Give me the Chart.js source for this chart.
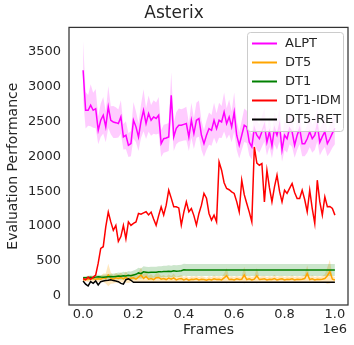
<!DOCTYPE html>
<html><head><meta charset="utf-8">
<script src="https://cdn.jsdelivr.net/npm/chart.js@4.4.0/dist/chart.umd.min.js"></script>
<style>html,body{margin:0;padding:0;background:#fff}#wrap{width:354px;height:345px}</style>
</head><body><div id="wrap"><canvas id="c" width="354" height="345"></canvas></div>
<script>
const title = "Asterix";
const xLabel = "Frames";
const yLabel = "Evaluation Performance";
const seriesNames = ["ALPT", "DT5", "DT1", "DT1-IDM", "DT5-RET"];
const xTicks = [0, 200000, 400000, 600000, 800000, 1000000];
const yTicks = [0, 500, 1000, 1500, 2000, 2500, 3000, 3500];
const frames = Array.from({length: 101}, (_, i) => i * 10000);

const alpt = [3229,2657,2657,2729,2657,2680,2371,2514,2586,2420,2705,2514,2490,2480,2467,2562,2276,2300,2157,2180,
2514,2420,2276,2500,2657,2467,2610,2514,2562,2540,2586,2180,2250,2260,2276,2871,2276,2400,2443,2443,
2455,2467,2276,2514,2324,2514,2538,2300,2180,2300,2395,2371,2514,2395,2514,2490,2633,2467,2562,2420,
2630,2300,2157,2300,2443,2420,2200,2133,2400,2300,2250,2350,2450,2200,2350,2150,2400,2300,2450,2090,
2300,2250,2400,2350,2157,2300,2400,2180,2180,2250,2350,2250,2300,2450,2200,2280,2350,2180,2250,2330,2400];
const alptSpread = [420,260,220,300,250,280,200,240,260,220,300,200,230,220,200,240,180,200,170,180,
260,220,200,240,300,220,260,220,240,230,260,190,200,200,200,330,200,230,240,230,
230,240,200,250,220,250,260,210,190,210,230,220,250,220,250,230,280,220,250,220,
280,210,190,210,240,230,190,180,230,210,200,220,240,190,220,180,230,210,240,170,
210,200,230,220,180,210,230,180,180,200,220,200,210,240,190,200,220,180,200,210,230];

const dt5 = [230,240,235,250,245,238,245,240,260,250,300,255,240,260,250,265,245,270,240,255,
260,240,270,300,250,280,240,250,235,260,265,240,250,235,255,240,260,230,245,250,
230,245,225,240,235,245,230,240,235,225,240,230,245,235,240,230,260,290,235,240,
230,245,235,240,300,235,245,230,240,290,235,240,245,230,240,235,250,230,240,245,
230,240,235,245,230,240,235,240,250,320,235,245,230,240,235,240,250,290,350,240,230];
const dt5Spread = [30,30,35,40,40,40,45,45,60,70,160,80,60,70,60,70,55,80,55,60,
60,50,70,110,60,80,50,60,45,60,60,45,50,40,55,45,60,40,45,50,
40,45,35,45,40,45,40,45,40,35,45,40,50,40,45,40,60,110,40,45,
40,45,40,45,120,40,45,40,45,110,40,45,45,40,45,40,55,40,45,45,
40,45,40,50,40,45,40,45,55,120,40,50,40,45,40,45,60,120,170,45,40];

const dt1 = [262,262,265,268,262,270,275,270,268,272,275,278,275,280,285,282,290,285,295,290,
300,310,330,320,345,340,335,338,340,340,345,345,350,350,355,350,360,355,358,362,
375,371,371,371,371,371,371,371,371,371,371,371,371,371,371,371,371,371,371,371,
371,371,371,371,371,371,371,371,371,371,371,371,371,371,371,371,371,371,371,371,
371,371,371,371,371,371,371,371,371,371,371,371,371,371,371,371,371,371,371,371,371];
const dt1Spread = [20,22,25,25,28,30,30,32,35,35,40,40,45,45,50,50,55,55,60,60,
65,70,75,75,80,80,80,80,80,80,82,82,82,82,84,84,84,84,85,85,
85,85,85,85,85,85,85,85,85,85,85,85,85,85,85,85,85,85,85,85,
85,85,85,85,85,85,85,85,85,85,85,85,85,85,85,85,85,85,85,85,
85,85,85,85,85,85,85,85,85,85,85,85,85,85,85,85,85,85,85,85,85];

const dt1idm = [250,230,270,240,270,300,470,680,705,990,1200,1060,940,1010,780,850,1010,820,1060,1010,
1040,1060,1180,1170,1190,1205,1160,1200,1100,1010,1150,1276,1160,1300,1514,1400,1276,1276,1260,1014,
1200,1347,1205,1252,1150,1014,1181,1300,1467,1400,1181,1086,1157,1062,1919,1800,1620,1538,1520,1490,
1467,1350,1205,1657,1450,1324,1200,1062,2133,1900,1871,1895,1347,1800,1550,1347,1562,1729,1500,1347,
1514,1467,1540,1610,1480,1395,1395,1514,1380,1205,1514,1250,1038,1657,1350,1157,1419,1276,1280,1252,1157];

const dt5ret = [214,170,143,205,180,214,157,205,214,220,225,233,220,214,205,180,170,233,245,225,
195,195,195,195,195,195,195,195,195,195,195,195,195,195,195,195,195,195,195,195,
195,195,195,195,195,195,195,195,195,195,195,195,195,195,195,195,195,195,195,195,
195,195,195,195,195,195,195,195,195,195,195,195,195,195,195,195,195,195,195,195,
195,195,195,195,195,195,195,195,195,195,195,195,195,195,195,195,195,195,195,195,195];

const colors = ["#ff00ff", "#ffa500", "#008000", "#ff0000", "#000000"];
const bandColors = ["rgba(255,0,255,0.2)", "rgba(255,165,0,0.25)", "rgba(0,128,0,0.2)"];
const values = [alpt, dt5, dt1, dt1idm, dt5ret];
const spreads = [alptSpread, dt5Spread, dt1Spread];

const pts = arr => arr.map((v, i) => ({x: frames[i], y: v}));
const datasets = [];
spreads.forEach((sp, k) => {
  const v = values[k];
  datasets.push({label: "_lo" + k, data: pts(v.map((a, i) => a - sp[i])), borderWidth: 0, pointRadius: 0, fill: false, order: 10 - k});
  datasets.push({label: "_hi" + k, data: pts(v.map((a, i) => a + sp[i])), borderWidth: 0, pointRadius: 0, backgroundColor: bandColors[k], fill: "-1", order: 10 - k});
});
values.forEach((v, k) => {
  datasets.push({label: seriesNames[k], data: pts(v), borderColor: colors[k], borderWidth: 1.5, pointRadius: 0, fill: false, tension: 0, order: 5 - k});
});

const TXT = "#262626";
const FONT = "'DejaVu Sans', sans-serif";

const framePlugin = {
  id: "frame",
  afterDraw(chart) {
    const {ctx, chartArea: a} = chart;
    ctx.save();
    ctx.strokeStyle = "#333333";
    ctx.lineWidth = 1.25;
    ctx.strokeRect(a.left, a.top, a.right - a.left, a.bottom - a.top);
    const lx = 247.5, ly = 32.5, lw = 96, lh = 99, r = 3;
    ctx.beginPath();
    ctx.moveTo(lx + r, ly); ctx.lineTo(lx + lw - r, ly); ctx.quadraticCurveTo(lx + lw, ly, lx + lw, ly + r);
    ctx.lineTo(lx + lw, ly + lh - r); ctx.quadraticCurveTo(lx + lw, ly + lh, lx + lw - r, ly + lh);
    ctx.lineTo(lx + r, ly + lh); ctx.quadraticCurveTo(lx, ly + lh, lx, ly + lh - r);
    ctx.lineTo(lx, ly + r); ctx.quadraticCurveTo(lx, ly, lx + r, ly);
    ctx.closePath();
    ctx.fillStyle = "rgba(255,255,255,0.8)";
    ctx.fill();
    ctx.strokeStyle = "#cccccc";
    ctx.lineWidth = 1;
    ctx.stroke();
    ctx.font = "13px " + FONT;
    ctx.textBaseline = "middle";
    ctx.textAlign = "left";
    seriesNames.forEach((n, k) => {
      const y = 43.5 + k * 19;
      ctx.strokeStyle = colors[k];
      ctx.lineWidth = 2;
      ctx.beginPath(); ctx.moveTo(252, y); ctx.lineTo(277, y); ctx.stroke();
      ctx.fillStyle = TXT;
      ctx.fillText(n, 285, y + 0.5);
    });
    ctx.textAlign = "right";
    ctx.font = "13px " + FONT;
    ctx.fillText("1e6", 347, 330);
    ctx.restore();
  }
};

new Chart(document.getElementById("c"), {
  type: "line",
  data: {datasets},
  options: {
    responsive: false,
    animation: false,
    layout: {padding: {left: 0, right: 6, top: 0, bottom: 0}},
    plugins: {
      legend: {display: false},
      tooltip: {enabled: false},
      title: {display: true, text: title, color: TXT, font: {family: FONT, size: 17, weight: "normal"}, padding: {top: 3, bottom: 4}}
    },
    scales: {
      x: {
        type: "linear", min: -56000, max: 1052000,
        afterBuildTicks: s => { s.ticks = xTicks.map(v => ({value: v})); },
        afterFit: s => { s.height = 40; },
        grid: {display: false, drawTicks: false},
        border: {display: false},
        ticks: {color: TXT, font: {family: FONT, size: 13}, padding: 2, maxRotation: 0, callback: v => (v / 1e6).toFixed(1)},
        title: {display: true, text: xLabel, color: TXT, font: {family: FONT, size: 14}, padding: {top: 0, bottom: 6}}
      },
      y: {
        type: "linear", min: -129, max: 3843,
        afterBuildTicks: s => { s.ticks = yTicks.map(v => ({value: v})); },
        afterFit: s => { s.width = 69; },
        grid: {display: false, drawTicks: false},
        border: {display: false},
        ticks: {color: TXT, font: {family: FONT, size: 13}, padding: 8, callback: v => String(v)},
        title: {display: true, text: yLabel, color: TXT, font: {family: FONT, size: 14}, padding: {top: 5, bottom: 0}}
      }
    }
  },
  plugins: [framePlugin]
});
</script>
</body></html>
